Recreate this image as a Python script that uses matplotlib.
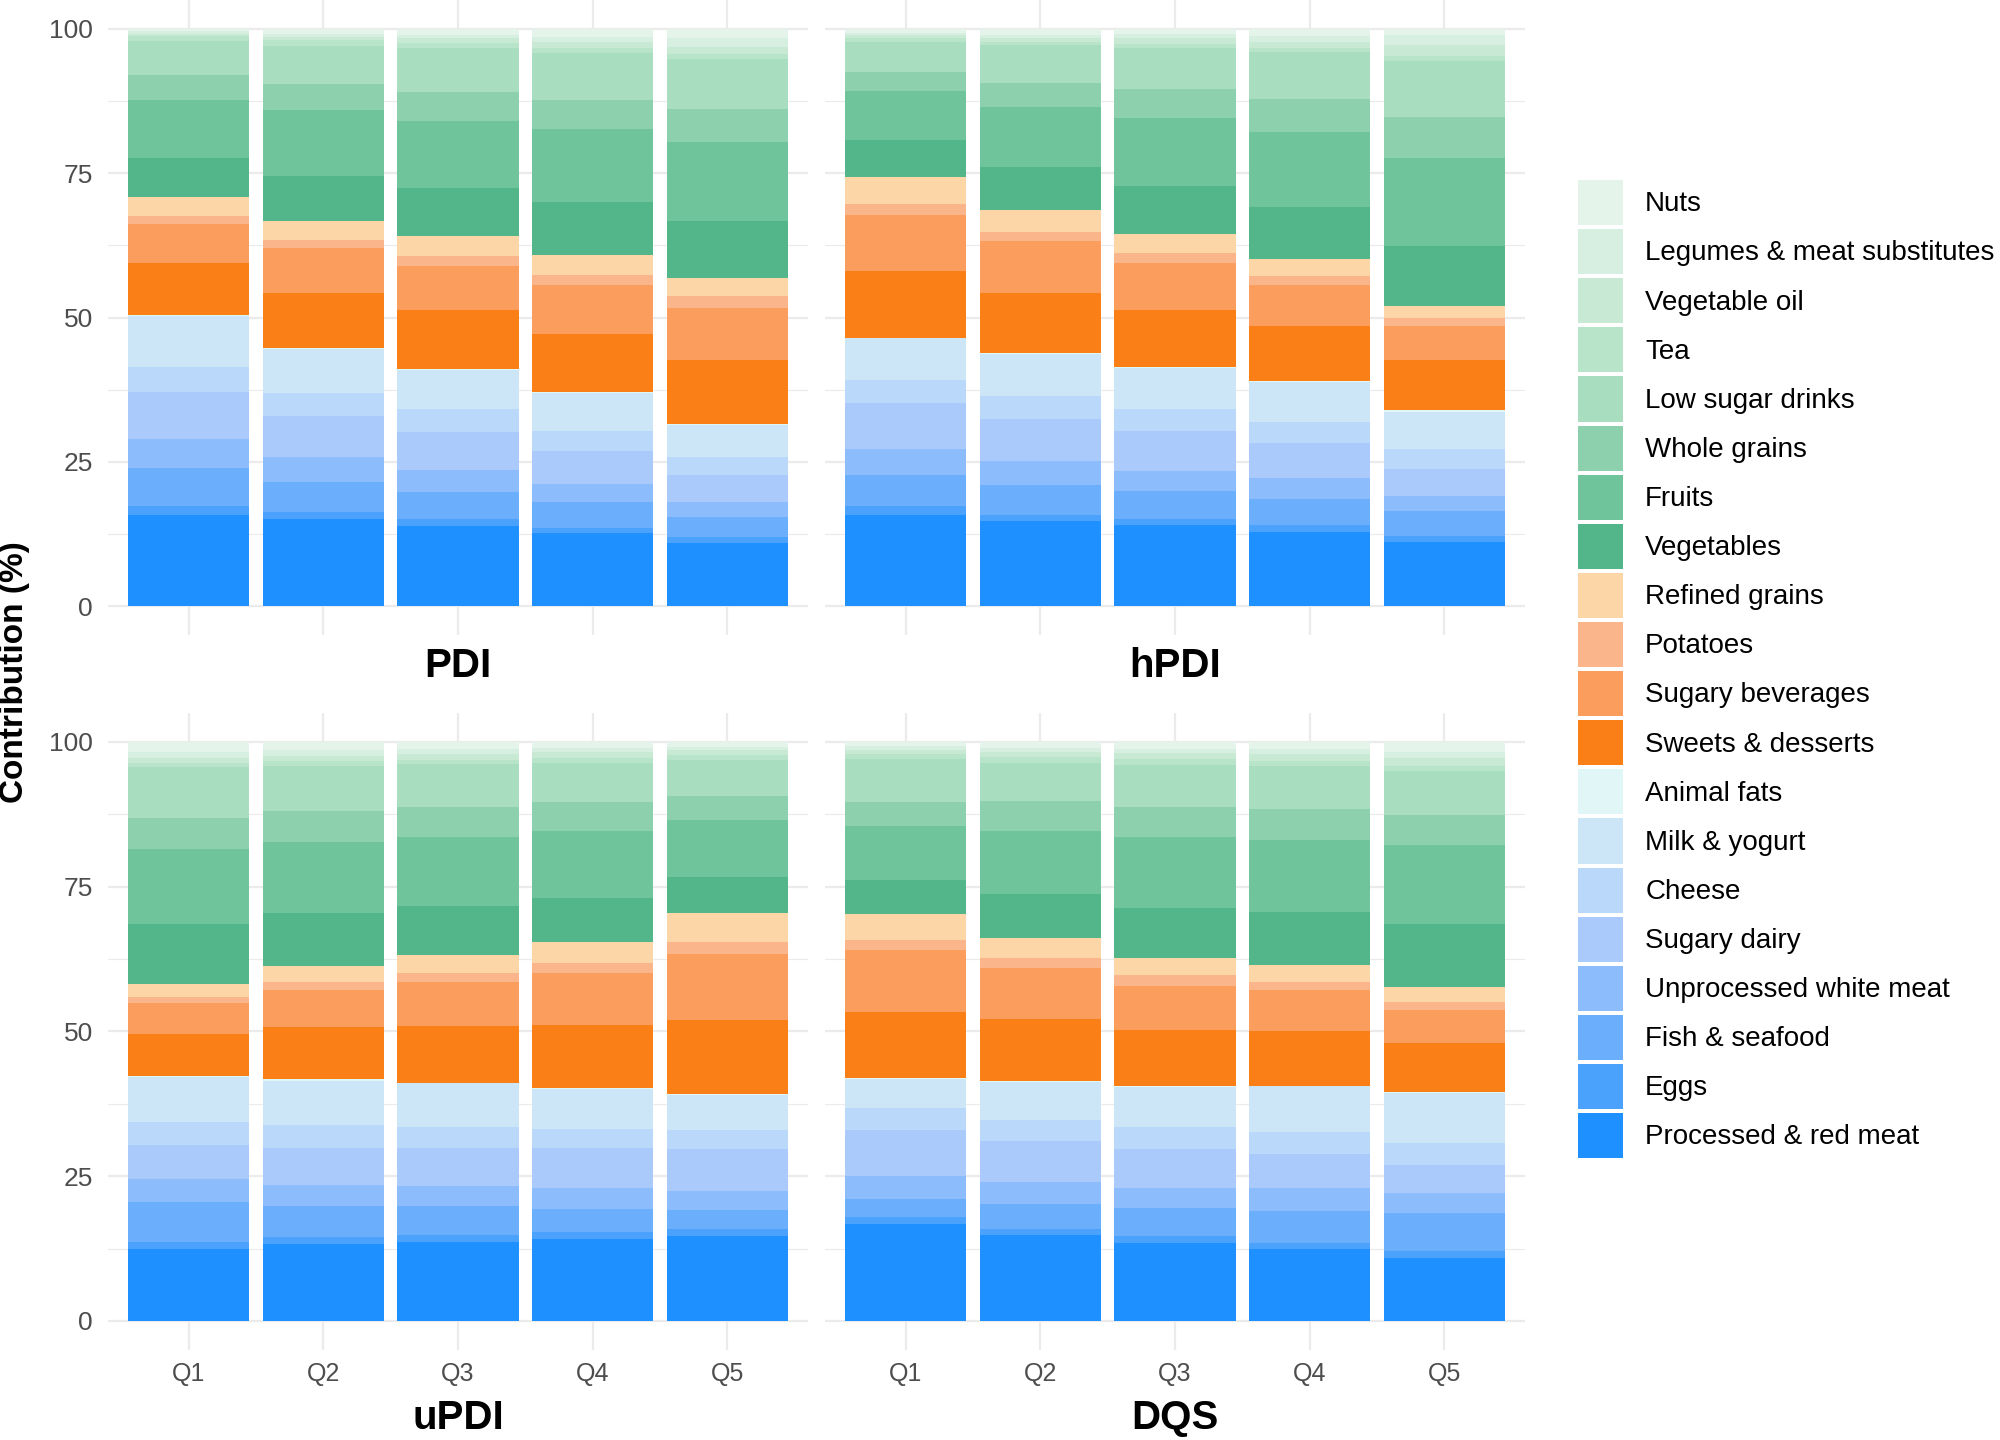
import matplotlib
matplotlib.use('Agg')
import matplotlib.pyplot as plt
from matplotlib.patches import Patch
import numpy as np

plt.rcParams['font.family'] = ['Liberation Sans', 'DejaVu Sans']

# food groups, bottom of the stack first
categories = ['Processed & red meat', 'Eggs', 'Fish & seafood', 'Unprocessed white meat',
              'Sugary dairy', 'Cheese', 'Milk & yogurt', 'Animal fats',
              'Sweets & desserts', 'Sugary beverages', 'Potatoes', 'Refined grains',
              'Vegetables', 'Fruits', 'Whole grains', 'Low sugar drinks', 'Tea',
              'Vegetable oil', 'Legumes & meat substitutes', 'Nuts']
colors = ['#1E90FF', '#4AA2FC', '#6AAEFC', '#8CBCFB', '#A9CAFB', '#BAD8FA', '#CCE6F8', '#E0F6F7',
          '#FB7F17', '#FB9D5C', '#FAB68A', '#FCD6A6',
          '#52B68A', '#6FC49B', '#8CD0AD', '#A8DDBF', '#B8E4CA', '#C8EAD5', '#D6EFE0', '#E5F4EB']
quintiles = ['Q1', 'Q2', 'Q3', 'Q4', 'Q5']

# contribution (%) per quintile, same order as categories
pdi = [
    [15.8, 1.6, 6.6, 4.9, 8.2, 4.3, 8.9, 0.1, 9.1, 6.7, 1.3, 3.3, 6.8, 10.0, 4.4, 5.9, 0.8, 0.4, 0.5, 0.4],
    [15.1, 1.2, 5.2, 4.3, 7.2, 3.9, 7.6, 0.2, 9.6, 7.7, 1.5, 3.3, 7.8, 11.3, 4.6, 6.6, 0.9, 0.6, 0.5, 0.9],
    [13.9, 1.2, 4.6, 3.9, 6.6, 3.9, 6.8, 0.2, 10.2, 7.7, 1.6, 3.5, 8.4, 11.6, 5.0, 7.5, 0.9, 0.9, 0.6, 1.0],
    [12.6, 1.0, 4.4, 3.2, 5.6, 3.6, 6.5, 0.2, 10.1, 8.5, 1.6, 3.6, 9.1, 12.6, 5.1, 8.2, 0.8, 1.0, 0.9, 1.4],
    [11.0, 0.9, 3.6, 2.5, 4.7, 3.2, 5.5, 0.1, 11.1, 9.1, 2.0, 3.1, 9.9, 13.7, 5.7, 8.6, 1.0, 1.2, 1.5, 1.6],
]
hpdi = [
    [15.8, 1.5, 5.4, 4.6, 7.9, 3.9, 7.3, 0.1, 11.5, 9.7, 2.0, 4.6, 6.5, 8.5, 3.2, 5.3, 0.6, 0.5, 0.4, 0.7],
    [14.8, 1.0, 5.2, 4.2, 7.2, 4.0, 7.3, 0.1, 10.5, 8.9, 1.7, 3.7, 7.5, 10.4, 4.2, 6.5, 0.6, 0.6, 0.5, 1.1],
    [14.0, 1.1, 4.8, 3.5, 6.9, 3.8, 7.2, 0.2, 9.8, 8.1, 1.7, 3.3, 8.3, 11.9, 4.9, 7.1, 0.8, 1.0, 0.7, 0.9],
    [12.9, 1.1, 4.6, 3.6, 6.1, 3.6, 6.9, 0.2, 9.6, 7.1, 1.5, 3.0, 9.0, 13.0, 5.7, 8.1, 0.7, 1.1, 0.9, 1.3],
    [11.2, 1.0, 4.3, 2.5, 4.7, 3.6, 6.4, 0.2, 8.7, 6.0, 1.3, 2.1, 10.4, 15.3, 7.0, 9.8, 0.8, 1.9, 1.7, 1.1],
]
updi = [
    [12.4, 1.3, 6.9, 3.9, 5.8, 4.1, 7.8, 0.1, 7.3, 5.3, 1.1, 2.1, 10.4, 12.9, 5.5, 8.7, 0.8, 0.8, 1.0, 1.8],
    [13.2, 1.3, 5.3, 3.7, 6.3, 4.0, 7.7, 0.2, 9.0, 6.4, 1.4, 2.7, 9.2, 12.3, 5.4, 7.7, 0.8, 0.9, 1.0, 1.5],
    [13.7, 1.2, 4.9, 3.5, 6.5, 3.7, 7.5, 0.1, 9.9, 7.5, 1.5, 3.1, 8.5, 12.0, 5.2, 7.3, 0.8, 0.9, 1.0, 1.2],
    [14.1, 1.2, 4.0, 3.6, 6.9, 3.4, 6.8, 0.2, 10.9, 9.0, 1.7, 3.7, 7.6, 11.5, 5.0, 6.7, 0.9, 1.0, 0.8, 1.0],
    [14.7, 1.1, 3.3, 3.4, 7.1, 3.3, 6.1, 0.1, 12.8, 11.4, 2.2, 5.0, 6.2, 9.8, 4.2, 6.2, 0.8, 0.8, 0.6, 0.9],
]
dqs = [
    [16.7, 1.3, 3.0, 4.0, 8.0, 3.7, 5.1, 0.2, 11.4, 10.6, 1.7, 4.6, 5.8, 9.4, 4.1, 7.4, 0.9, 0.7, 0.7, 0.7],
    [14.8, 1.1, 4.2, 3.8, 7.2, 3.6, 6.6, 0.1, 10.8, 8.8, 1.7, 3.4, 7.6, 10.9, 5.1, 6.7, 1.0, 0.8, 0.8, 1.0],
    [13.4, 1.2, 4.9, 3.4, 6.7, 3.8, 7.0, 0.2, 9.7, 7.5, 2.0, 2.9, 8.6, 12.3, 5.2, 7.2, 1.0, 1.0, 0.8, 1.2],
    [12.4, 1.0, 5.6, 3.9, 5.9, 3.8, 7.9, 0.1, 9.4, 7.1, 1.5, 2.9, 9.1, 12.4, 5.4, 7.4, 0.9, 1.1, 1.0, 1.2],
    [10.9, 1.1, 6.6, 3.4, 4.9, 3.8, 8.7, 0.1, 8.5, 5.7, 1.4, 2.6, 10.8, 13.6, 5.3, 7.6, 0.8, 1.4, 1.1, 1.7],
]

panels = [('PDI', pdi), ('hPDI', hpdi), ('uPDI', updi), ('DQS', dqs)]
positions = [[0.054, 0.559, 0.35, 0.441], [0.4125, 0.559, 0.35, 0.441],
             [0.054, 0.0626, 0.35, 0.4424], [0.4125, 0.0626, 0.35, 0.4424]]

fig = plt.figure(figsize=(20, 14.4), dpi=100)
grid_col = '#EBEBEB'

for i, (name, data) in enumerate(panels):
    ax = fig.add_axes(positions[i])
    vals = np.array(data)
    x = np.arange(1, 6)
    bottom = np.zeros(5)
    for j, cat in enumerate(categories):
        ax.bar(x, vals[:, j], bottom=bottom, width=0.9, color=colors[j], linewidth=0, zorder=3)
        bottom = bottom + vals[:, j]
    ax.set_xlim(0.4, 5.6)
    ax.set_ylim(-5, 105)
    ax.set_yticks([0, 25, 50, 75, 100])
    ax.set_yticks([12.5, 37.5, 62.5, 87.5], minor=True)
    ax.set_xticks(x)
    ax.grid(which='major', color=grid_col, linewidth=1.6, zorder=0)
    ax.grid(which='minor', axis='y', color=grid_col, linewidth=0.8, zorder=0)
    for s in ax.spines.values():
        s.set_visible(False)
    ax.tick_params(which='both', length=0)
    ax.tick_params(axis='y', labelsize=19, labelcolor='#4D4D4D', pad=11)
    ax.tick_params(axis='x', labelsize=18, labelcolor='#4D4D4D', pad=9)
    if i % 2 == 0:
        ax.set_yticklabels(['0', '25', '50', '75', '100'])
    else:
        ax.set_yticklabels([])
    if i >= 2:
        ax.set_xticklabels(quintiles)
        ty = 0.002
    else:
        ax.set_xticklabels([])
        ty = 0.5245
    fig.text(positions[i][0] + positions[i][2] / 2, ty, name, ha='center', va='bottom',
             fontsize=29, fontweight='bold')

fig.text(0.0075, 0.533, 'Contribution (%)', rotation=90, ha='center', va='center',
         fontsize=24, fontweight='bold')

handles = [Patch(facecolor=colors[j], edgecolor='none', label=categories[j])
           for j in range(len(categories) - 1, -1, -1)]
fig.legend(handles=handles, loc='upper left', bbox_to_anchor=(0.789, 0.875), frameon=False,
           fontsize=20, handlelength=1.62, handleheight=2.12, labelspacing=0.145,
           handletextpad=0.8, borderaxespad=0, borderpad=0)

fig.savefig('out.png', dpi=100)
